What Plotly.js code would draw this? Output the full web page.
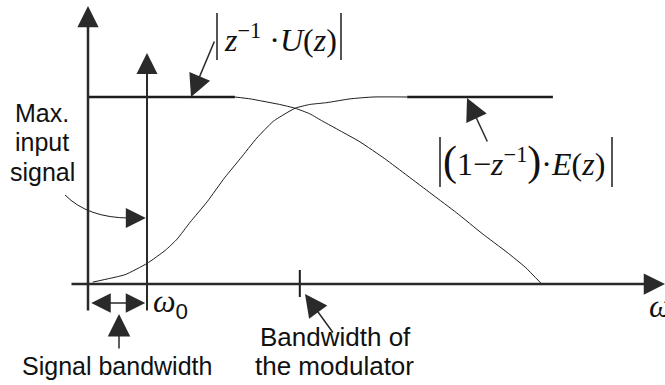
<!DOCTYPE html>
<html>
<head>
<meta charset="utf-8">
<script src="https://cdn.plot.ly/plotly-3.0.1.min.js"></script>
<style>
  html, body { margin: 0; padding: 0; background: #fff; }
  #chart { width: 665px; height: 385px; }
</style>
</head>
<body>
<div id="chart"></div>
<script>
// Frequency in units of the signal bandwidth (omega0 = 1), magnitude normalised to the max input level.
const omega0 = 1;
const modulatorBandwidth = 3.59;

// |z^-1 . U(z)| : signal transfer magnitude
const uOmega = [0, 2.49, 2.75, 2.92, 3.25, 3.51, 3.76, 3.98, 4.27, 4.61, 5.03, 5.41, 5.83, 6.25, 6.68, 7.10, 7.41, 7.69];
const uMag   = [1, 1, 0.99, 0.98, 0.96, 0.94, 0.91, 0.87, 0.82, 0.76, 0.67, 0.58, 0.48, 0.38, 0.27, 0.17, 0.09, 0];

// |(1 - z^-1) . E(z)| : shaped quantisation noise magnitude
const eOmega = [0.08, 0.37, 0.63, 1.0, 1.31, 1.51, 1.73, 2.02, 2.32, 2.58, 2.86, 3.14, 3.34, 3.51, 3.76, 4.05, 4.44, 4.83, 5.41, 7.88];
const eMag   = [0.01, 0.03, 0.05, 0.11, 0.18, 0.24, 0.33, 0.44, 0.57, 0.67, 0.78, 0.87, 0.91, 0.94, 0.96, 0.97, 0.99, 1.0, 1.0, 1.0];

// Text labels
const labelMaxInput = ['Max.', 'input', 'signal'];
const labelSignalBw = 'Signal bandwidth';
const labelModBw = ['Bandwidth of', 'the modulator'];

// Canvas geometry: where the origin sits and how many pixels one unit spans
const W = 665, H = 385;
const X0 = 88, XS = 59;     // px of omega = 0, px per unit omega
const Y0 = 284, YS = 187;   // px of magnitude 0, px per unit magnitude
const dx = px => (px - X0) / XS;
const dy = py => (Y0 - py) / YS;

const INK = '#1c1c1c';
const HEAD = '#2a2a2a';
const SANS = 'Liberation Sans, Arial, Helvetica, sans-serif';
const SERIF = 'Liberation Serif';

const traces = [
  // thin roll-off of the signal transfer
  { x: uOmega.slice(1), y: uMag.slice(1), mode: 'lines', line: { color: INK, width: 1, shape: 'spline', smoothing: 0.5 }, hoverinfo: 'skip' },
  // flat pass band drawn heavier
  { x: uOmega.slice(0, 2), y: uMag.slice(0, 2), mode: 'lines', line: { color: INK, width: 2.5 }, hoverinfo: 'skip' },
  // thin rise of the noise transfer
  { x: eOmega.slice(0, -1), y: eMag.slice(0, -1), mode: 'lines', line: { color: INK, width: 1, shape: 'spline', smoothing: 0.5 }, hoverinfo: 'skip' },
  // flat part of the noise transfer drawn heavier
  { x: eOmega.slice(-2), y: eMag.slice(-2), mode: 'lines', line: { color: INK, width: 2.5 }, hoverinfo: 'skip' }
];

function arrow(x, y, ax, ay, opts) {
  return Object.assign({
    x: x, y: y, ax: ax, ay: ay, xref: 'x', yref: 'y', axref: 'x', ayref: 'y',
    text: '', showarrow: true, arrowhead: 2, arrowsize: 2, arrowwidth: 2,
    arrowcolor: HEAD, standoff: 0, startstandoff: 0
  }, opts || {});
}

function label(px, py, text, opts) {
  return Object.assign({
    x: px / W, y: 1 - py / H, xref: 'paper', yref: 'paper', text: text,
    showarrow: false, xanchor: 'center', yanchor: 'middle',
    font: { family: SANS, size: 25, color: '#111' }
  }, opts || {});
}

const mathFont = { family: SERIF, size: 32, color: '#111' };

const annotations = [
  // axes
  arrow(dx(665), 0, dx(70), 0, { arrowwidth: 2.5, arrowsize: 1.7 }),
  arrow(0, dy(6), 0, dy(312), { arrowwidth: 2.5, arrowsize: 1.7 }),
  // input signal line at omega0
  arrow(omega0, dy(53), omega0, dy(312), { arrowwidth: 2, arrowsize: 2.1 }),
  // signal bandwidth span
  arrow(omega0 - 0.03, dy(303), 0.03, dy(303), { arrowside: 'end+start', arrowwidth: 1.5, arrowsize: 2.6, startarrowhead: 2, startarrowsize: 2.6 }),
  arrow(dx(119), dy(314), dx(119), dy(350), { arrowwidth: 1.5, arrowsize: 3 }),
  // pointer to the modulator bandwidth tick
  arrow(dx(305), dy(294), dx(334), dy(334), { arrowwidth: 1.5, arrowsize: 3 }),
  // pointers to the two curves
  arrow(dx(191), 1.0, dx(215), dy(40), { arrowwidth: 1.5, arrowsize: 3 }),
  arrow(dx(467), 0.995, dx(488), dy(143), { arrowwidth: 1.5, arrowsize: 3 }),
  // head of the curved max-input pointer
  arrow(omega0 - 0.02, dy(218), dx(128), dy(218), { arrowwidth: 1, arrowsize: 4 }),

  // text
  label(42, 113, labelMaxInput[0]),
  label(42, 142, labelMaxInput[1]),
  label(42, 172, labelMaxInput[2]),
  label(117, 366, labelSignalBw),
  label(335, 337, labelModBw[0], { font: { family: SANS, size: 26, color: '#111' } }),
  label(334, 366, labelModBw[1], { font: { family: SANS, size: 26, color: '#111' } }),
  label(151, 303, '<i>ω</i><sub><span style="font-family:Liberation Sans">0</span></sub>',
        { xanchor: 'left', font: mathFont }),
  label(647, 306, '<i>ω</i>', { xanchor: 'left', font: mathFont }),
  label(280, 38, '<i>z</i><sup>−1</sup> ·<i>U</i>(<i>z</i>)', { font: mathFont }),
  label(524, 162, '<span style="font-size:42px">(</span>1−<i>z</i><sup>−1</sup><span style="font-size:42px">)</span>·<i>E</i>(<i>z</i>)',
        { font: mathFont })
];

const seg = (x0, y0, x1, y1, w) => ({
  type: 'line', xref: 'x', yref: 'y', x0: dx(x0), y0: dy(y0), x1: dx(x1), y1: dy(y1),
  line: { color: INK, width: w }
});

const shapes = [
  // modulator bandwidth tick
  { type: 'line', xref: 'x', yref: 'y', x0: modulatorBandwidth, x1: modulatorBandwidth, y0: dy(270), y1: dy(297), line: { color: INK, width: 2 } },
  // absolute-value bars round the two labels
  seg(217, 13, 217, 60, 1.5), seg(341, 13, 341, 60, 1.5),
  seg(440, 137, 440, 187, 1.5), seg(612, 137, 612, 187, 1.5),
  // curved max-input pointer
  { type: 'path', xref: 'x', yref: 'y',
    path: `M ${dx(65)},${dy(195)} Q ${dx(88)},${dy(218)} ${dx(130)},${dy(218)}`,
    line: { color: INK, width: 1 } }
];

const layout = {
  width: W, height: H,
  margin: { l: 0, r: 0, t: 0, b: 0 },
  paper_bgcolor: '#fff', plot_bgcolor: '#fff',
  showlegend: false,
  xaxis: { range: [dx(0), dx(W)], visible: false, fixedrange: true },
  yaxis: { range: [dy(H), dy(0)], visible: false, fixedrange: true },
  annotations: annotations,
  shapes: shapes
};

Plotly.newPlot('chart', traces, layout, { staticPlot: true, displayModeBar: false });
</script>
</body>
</html>
